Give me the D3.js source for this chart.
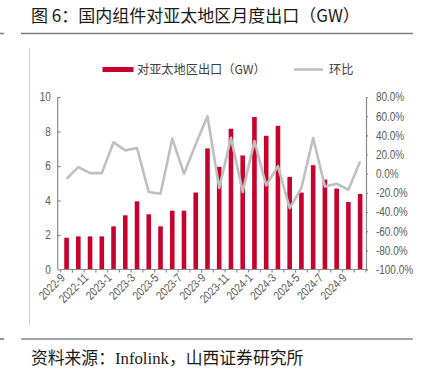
<!DOCTYPE html>
<html><head><meta charset="utf-8">
<script src="https://cdn.jsdelivr.net/npm/d3@7"></script>
<style>
html,body{margin:0;padding:0;background:#fff;}
svg{display:block;}
</style></head>
<body>
<svg id="c" width="421" height="372"></svg>
<script>
const months = ["2022-9","2022-10","2022-11","2022-12","2023-1","2023-2","2023-3","2023-4","2023-5","2023-6","2023-7","2023-8","2023-9","2023-10","2023-11","2023-12","2024-1","2024-2","2024-3","2024-4","2024-5","2024-6","2024-7","2024-8","2024-9","2024-10"];
const exportGW = [1.84,1.92,1.92,1.92,2.5,3.14,3.95,3.2,2.5,3.41,3.41,4.46,7.02,5.95,8.16,6.61,8.84,7.75,8.33,5.37,4.46,6.05,5.21,4.69,3.91,4.38];
const momPct = [-5.3,6.9,0.6,0.6,32.7,24.3,26.7,-19.2,-21,36.5,0,30.6,60,-15,37.5,-19,34,-12.3,7.9,-36,-15,37.2,-13.3,-10.5,-16.8,12.8];
const leftTicks = [0,2,4,6,8,10];
const rightTicks = [-100,-80,-60,-40,-20,0,20,40,60,80];
const labelMonths = months.filter((d,i)=>i%2===0);

const svg = d3.select("#c");
const cjk = "'Noto Sans CJK SC', sans-serif";
const latin = "'Liberation Sans', Arial, sans-serif";
const SX = 0.83;

// page decorations
svg.append("text").attr("x",31).attr("y",22).attr("font-family",cjk).attr("font-size",17).attr("fill","#1a1a1a")
  .text("图 6：国内组件对亚太地区月度出口（GW）");
svg.append("line").attr("x1",21).attr("x2",413).attr("y1",33.5).attr("y2",33.5).attr("stroke","#7f7f7f").attr("stroke-width",1.5);
svg.append("line").attr("x1",21).attr("x2",413).attr("y1",339).attr("y2",339).attr("stroke","#4d4d4d").attr("stroke-width",1.2);
svg.append("line").attr("x1",0).attr("x2",4).attr("y1",33.5).attr("y2",33.5).attr("stroke","#7f7f7f").attr("stroke-width",1.5);
svg.append("line").attr("x1",0).attr("x2",4).attr("y1",339).attr("y2",339).attr("stroke","#4d4d4d").attr("stroke-width",1.2);
svg.append("line").attr("x1",29.5).attr("x2",29.5).attr("y1",48).attr("y2",325).attr("stroke","#d0d0d0").attr("stroke-width",1);
svg.append("text").attr("x",31).attr("y",364).attr("font-size",16.8).attr("fill","#1a1a1a")
  .attr("font-family","'Liberation Serif', 'Noto Sans CJK SC', serif")
  .text("资料来源：Infolink，山西证券研究所");

// scales
const x = d3.scaleBand().domain(months).range([60.7,366]).paddingInner(0).paddingOuter(0);
const yL = d3.scaleLinear().domain([0,10]).range([269.5,97]);
const yR = d3.scaleLinear().domain([-100,80]).range([269.5,97]);

// bars
const bw = 4.6;
svg.append("g").selectAll("rect").data(months).join("rect")
  .attr("x",(d)=>x(d)+x.bandwidth()/2-bw/2)
  .attr("width",bw)
  .attr("y",(d,i)=>yL(exportGW[i]))
  .attr("height",(d,i)=>yL(0)-yL(exportGW[i]))
  .attr("fill","#c8002d");

// line
const line = d3.line().x((d,i)=>x(months[i])+x.bandwidth()/2).y(d=>yR(d));
svg.append("path").datum(momPct).attr("d",line).attr("fill","none")
  .attr("stroke","#bfbfbf").attr("stroke-width",2.6).attr("stroke-linejoin","round");

// axes
const axisColor = "#8c8c8c";
const gL = svg.append("g").attr("transform","translate(60.7,0)")
  .call(d3.axisLeft(yL).tickValues(leftTicks).tickSize(3).tickPadding(7).tickFormat(d3.format("d")));
const gR = svg.append("g").attr("transform","translate(366,0)")
  .call(d3.axisRight(yR).tickValues(rightTicks).tickSize(2).tickPadding(8).tickFormat(d=>d.toFixed(1)+"%"));
[gL,gR].forEach(g=>{
  g.select(".domain").attr("stroke",axisColor).attr("stroke-width",1.2);
  g.selectAll(".tick line").attr("stroke",axisColor).attr("stroke-width",1.2);
  g.selectAll(".tick text").attr("font-family",latin).attr("font-size",12).attr("fill","#595959")
    .each(function(){ const t=d3.select(this); t.attr("x", (+t.attr("x"))/SX).attr("transform",`scale(${SX},1)`); });
});
gL.select(".domain").attr("d","M-3,97V269.5");

// x axis: ticks at band boundaries
const gX = svg.append("g").attr("transform","translate(0,269.5)");
gX.append("line").attr("x1",60.7).attr("x2",366).attr("stroke",axisColor).attr("stroke-width",1.2);
gX.selectAll(".bt").data(months.concat(["end"])).join("line")
  .attr("x1",(d,i)=>i<months.length? x(d): 366).attr("x2",(d,i)=>i<months.length? x(d): 366)
  .attr("y1",0).attr("y2",3).attr("stroke",axisColor).attr("stroke-width",1.2);
gX.selectAll(".lbl").data(labelMonths).join("text")
  .attr("transform",d=>`translate(${x(d)+x.bandwidth()/2-1},${9}) rotate(-45) scale(${SX},1)`)
  .attr("text-anchor","end").attr("font-family",latin).attr("font-size",12).attr("fill","#595959")
  .text(d=>d);

// legend
svg.append("rect").attr("x",102.5).attr("y",67).attr("width",31).attr("height",5).attr("fill","#c8002d");
svg.append("text").attr("x",137).attr("y",74).attr("font-family",cjk).attr("font-size",12.2).attr("fill","#404040").text("对亚太地区出口（GW）");
svg.append("line").attr("x1",294).attr("x2",323).attr("y1",69.5).attr("y2",69.5).attr("stroke","#bfbfbf").attr("stroke-width",2.6);
svg.append("text").attr("x",329).attr("y",74).attr("font-family",cjk).attr("font-size",12.2).attr("fill","#404040").text("环比");
</script>
</body></html>
